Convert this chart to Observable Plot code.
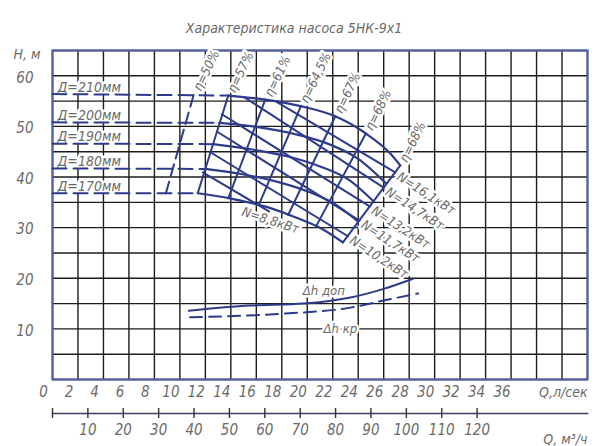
<!DOCTYPE html>
<html><head><meta charset="utf-8">
<script src="https://cdn.jsdelivr.net/npm/d3@7"></script>
<script src="https://cdn.jsdelivr.net/npm/@observablehq/plot@0.6"></script>
<style>
body{margin:0;background:#fff;}
#chart svg{display:block;}
</style></head><body><div id="chart"></div>
<script>
// ---------- data ----------
const titleText = "Характеристика насоса 5НК-9х1";
const qGrid = d3.range(0, 43, 2);          // l/s grid
const qTicks = d3.range(0, 37, 2);         // l/s labels
const hGrid = d3.range(0, 66, 5);          // m grid
const hTicks = [10, 20, 30, 40, 50, 60];
const m3hTicks = [0, 10, 20, 30, 40, 50, 60, 70, 80, 90, 100, 110, 120];
const m3hLabels = [10, 20, 30, 40, 50, 60, 70, 80, 90, 100, 110, 120];

const diameterLabels = ["Д=210мм", "Д=200мм", "Д=190мм", "Д=180мм", "Д=170мм"];
const shutoffH = [56.4, 50.8, 46.6, 41.7, 36.8];
const hqQ = [
  [13.8, 16.7, 19.5, 22.2, 24.6, 26.5, 27.3],
  [13.1, 16.0, 19.0, 21.7, 24.0, 26.2],
  [12.6, 15.5, 18.4, 21.0, 23.3, 25.2],
  [12.0, 14.8, 17.6, 20.1, 22.2, 24.0],
  [11.4, 14.1, 16.8, 19.2, 21.2, 22.8]
];
const hqH = [
  [56.1, 55.3, 54.0, 52.0, 48.6, 44.7, 42.3],
  [50.7, 49.9, 48.5, 46.5, 43.6, 38.7],
  [46.5, 45.5, 44.1, 42.1, 39.4, 35.2],
  [41.6, 40.6, 39.1, 37.1, 34.6, 31.2],
  [36.8, 35.7, 34.1, 31.9, 29.7, 27.1]
];

const etaLabels = ["η=50%", "η=57%", "η=61%", "η=64,5%", "η=67%", "η=68%", "η=68%"];
const etaTopQ = [11.1, 13.8, 16.7, 19.5, 22.2, 24.6, 27.3];
const etaTopH = [56.4, 56.1, 55.3, 54.0, 52.0, 48.6, 42.3];
const etaBotQ = [8.9, 11.4, 13.8, 16.2, 18.5, 20.7, 22.8];
const etaBotH = [36.8, 36.8, 35.8, 34.5, 32.5, 30.3, 27.1];

const powerLabels = ["N=16,1кВт", "N=14,7кВт", "N=13,2кВт", "N=11,7кВт", "N=10,2кВт", "N=8,8кВт"];
const powStartQ = [17.5, 15.1, 13.3, 12.9, 12.4, 11.8];
const powStartH = [55.0, 55.7, 52.4, 49.0, 44.9, 40.9];
const powEndQ = [26.9, 26.0, 24.9, 24.1, 23.2, 17.0];
const powEndH = [40.9, 37.9, 34.2, 31.4, 28.3, 33.2];
const lowPowLabelQ = [17.1];
const lowPowLabelH = [31.4];

const dhDopQ = [10.7, 15.5, 19.7, 23.4, 26.0, 28.3];
const dhDopH = [13.6, 14.6, 15.0, 16.2, 17.9, 19.9];
const dhKrQ = [10.8, 18.1, 23.4, 26.0, 28.7];
const dhKrH = [12.3, 13.0, 14.2, 15.6, 17.0];
const dhLabels = ["Δh доп", "Δh кр"];
const dhLabelQ = [21.3, 22.6];
const dhLabelH = [17.6, 10.1];

// ---------- tidy tables ----------
const hqRows = diameterLabels.flatMap((d, i) => hqQ[i].map((q, j) => ({d, q, h: hqH[i][j]})));
const dashRows = diameterLabels.flatMap((d, i) => [{d, q: 0, h: shutoffH[i]}, {d, q: hqQ[i][0], h: hqH[i][0]}]);
const dLabelRows = diameterLabels.map((d, i) => ({d, h: shutoffH[i]}));
const etaRows = etaLabels.flatMap((e, i) => [{k: i, q: etaBotQ[i], h: etaBotH[i]}, {k: i, q: etaTopQ[i], h: etaTopH[i]}]);
const etaLabelRows = etaLabels.map((e, i) => ({e, q: etaTopQ[i], h: etaTopH[i]}));
const powRows = powerLabels.flatMap((n, i) => [{n, q: powStartQ[i], h: powStartH[i]}, {n, q: powEndQ[i], h: powEndH[i]}]);
const powLabelRows = powerLabels.slice(0, 5).map((n, i) => ({n, q: powEndQ[i], h: powEndH[i]}));
const lowPowLabelRows = [{n: powerLabels[5], q: lowPowLabelQ[0], h: lowPowLabelH[0]}];
const dhDopRows = dhDopQ.map((q, i) => ({q, h: dhDopH[i]}));
const dhKrRows = dhKrQ.map((q, i) => ({q, h: dhKrH[i]}));
const dhLabelRows = dhLabels.map((t, i) => ({t, q: dhLabelQ[i], h: dhLabelH[i]}));

// ---------- style ----------
const FONT = "'Liberation Sans Narrow','DejaVu Sans Condensed','DejaVu Sans',sans-serif";
const INK = "#2e3b8c";
const LBL = "#6a6a6a";
const GRID = "#1c1c1c";
const FRAME = "#5361ac";
const txt = {fontFamily: FONT, fontStyle: "italic", fill: LBL};
const halo = {stroke: "white", strokeWidth: 5};

const main = Plot.plot({
  width: 595, height: 404,
  marginLeft: 52, marginRight: 8, marginTop: 50, marginBottom: 25,
  x: {domain: [0, 42], axis: null},
  y: {domain: [0, 65], axis: null},
  style: {background: "white", overflow: "visible"},
  marks: [
    Plot.ruleX(qGrid, {stroke: GRID, strokeWidth: 1.4}),
    Plot.ruleY(hGrid, {stroke: GRID, strokeWidth: 1.4}),
    Plot.frame({stroke: FRAME, strokeWidth: 2.2}),
    // labels with white backgrounds (gaps in grid)
    Plot.text(dLabelRows, {x: 0, y: "h", text: "d", textAnchor: "start", dx: 5, dy: -7, fontSize: 14, ...txt, ...halo}),
    Plot.text(etaLabelRows, {x: "q", y: "h", text: "e", textAnchor: "start", rotate: -64, fontSize: 13, dx: 3, dy: -4, ...txt, ...halo}),
    Plot.text(powLabelRows, {x: "q", y: "h", text: "n", textAnchor: "start", rotate: 33, fontSize: 13, dx: 3, dy: 3, ...txt, ...halo}),
    Plot.text(lowPowLabelRows, {x: "q", y: "h", text: "n", rotate: 18, fontSize: 13, ...txt, ...halo}),
    Plot.text(dhLabelRows, {x: "q", y: "h", text: "t", fontSize: 13, ...txt, ...halo}),
    // pump curves
    Plot.line(dashRows, {x: "q", y: "h", z: "d", stroke: INK, strokeWidth: 2, strokeDasharray: "14,7"}),
    Plot.line(hqRows, {x: "q", y: "h", z: "d", stroke: INK, strokeWidth: 2.2, curve: "monotone-x"}),
    Plot.line(etaRows.filter(r => r.k === 0), {x: "q", y: "h", stroke: INK, strokeWidth: 2, strokeDasharray: "12,6"}),
    Plot.line(etaRows.filter(r => r.k > 0), {x: "q", y: "h", z: "k", stroke: INK, strokeWidth: 2}),
    Plot.line(powRows, {x: "q", y: "h", z: "n", stroke: INK, strokeWidth: 2}),
    Plot.line(dhDopRows, {x: "q", y: "h", stroke: INK, strokeWidth: 2, curve: "monotone-x"}),
    Plot.line(dhKrRows, {x: "q", y: "h", stroke: INK, strokeWidth: 2, strokeDasharray: "12,7", curve: "monotone-x"}),
    // axis texts
    Plot.text(hTicks, {y: d => d, frameAnchor: "left", dx: -19, dy: 2, textAnchor: "end", fontSize: 15, ...txt}),
    Plot.text(qTicks, {x: d => d, frameAnchor: "bottom", dx: -9, dy: 17, fontSize: 15, ...txt}),
    Plot.text(["Q,л/сек"], {frameAnchor: "bottom-right", dy: 17, textAnchor: "end", fontSize: 14, ...txt}),
    Plot.text(["H, м"], {frameAnchor: "top-left", dx: -39, dy: -1, textAnchor: "start", fontSize: 14, ...txt}),
    Plot.text([titleText], {frameAnchor: "top", dx: -26, dy: -27, fontSize: 14, ...txt})
  ]
});

const second = Plot.plot({
  width: 595, height: 42,
  marginLeft: 52, marginRight: 8, marginTop: 9, marginBottom: 28,
  x: {domain: [0, 42], axis: null},
  style: {background: "white", overflow: "visible"},
  marks: [
    Plot.frame({anchor: "top", stroke: "#3a3f63", strokeWidth: 1.6}),
    Plot.tickX(m3hTicks, {x: d => d / 3.6, insetTop: -5, stroke: "#333", strokeWidth: 1.4}),
    Plot.text(m3hLabels, {x: d => d / 3.6, frameAnchor: "bottom", dy: 16, fontSize: 15, ...txt}),
    Plot.text(["Q, м³/ч"], {frameAnchor: "bottom-right", dy: 25, textAnchor: "end", fontSize: 14, ...txt})
  ]
});

const host = document.getElementById("chart");
host.appendChild(main);
host.appendChild(second);
</script></body></html>
